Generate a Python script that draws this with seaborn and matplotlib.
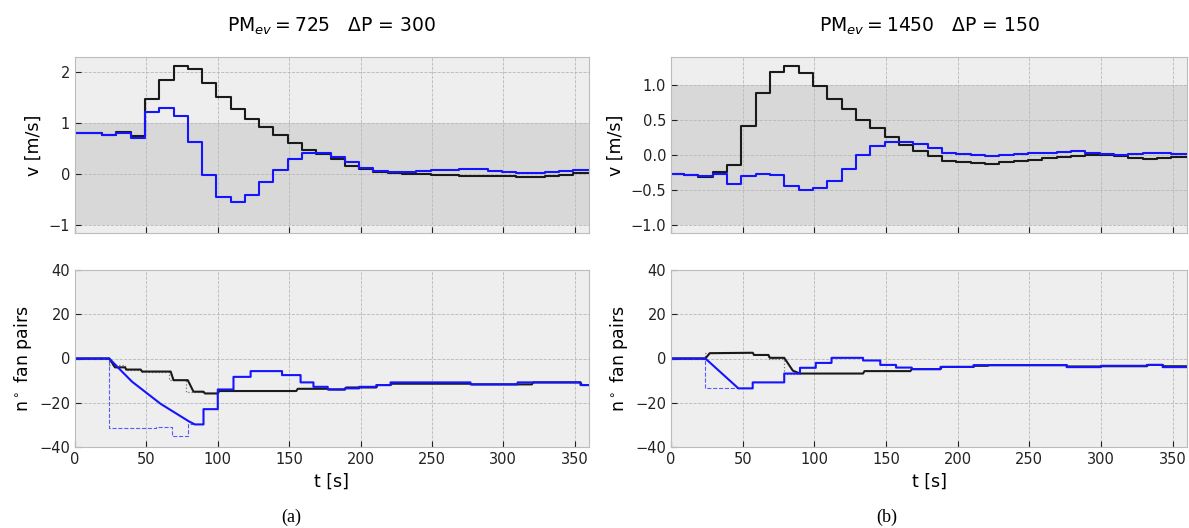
import numpy as np
import matplotlib
matplotlib.use("Agg")
import matplotlib.pyplot as plt
import seaborn as sns

# time grid of the velocity steps [s]
t_v = [0, 9, 19, 29, 39, 49, 59, 69, 79, 89, 99, 109, 119, 129, 139, 149, 159, 169,
       179, 189, 199, 209, 219, 229, 239, 249, 259, 269, 279, 289, 299, 309, 319, 329,
       339, 349, 360]

# (a) PM_ev = 725, dP = 300
v_black_a = [0.81, 0.81, 0.76, 0.82, 0.75, 1.47, 1.85, 2.11, 2.06, 1.79, 1.50, 1.27,
             1.08, 0.92, 0.76, 0.60, 0.48, 0.39, 0.29, 0.16, 0.10, 0.05, 0.02, 0.00,
             0.00, -0.02, -0.02, -0.03, -0.035, -0.04, -0.04, -0.05, -0.05, -0.045,
             -0.01, 0.02, 0.02]
v_blue_a = [0.81, 0.80, 0.76, 0.81, 0.71, 1.21, 1.29, 1.13, 0.63, -0.01, -0.44, -0.54,
            -0.41, -0.16, 0.08, 0.30, 0.42, 0.42, 0.34, 0.23, 0.13, 0.07, 0.04, 0.04,
            0.06, 0.08, 0.09, 0.10, 0.10, 0.07, 0.05, 0.03, 0.03, 0.05, 0.06, 0.08, 0.08]

# (b) PM_ev = 1450, dP = 150
v_black_b = [-0.27, -0.29, -0.32, -0.25, -0.14, 0.41, 0.89, 1.19, 1.27, 1.17, 0.98,
             0.80, 0.65, 0.50, 0.38, 0.25, 0.14, 0.05, -0.02, -0.085, -0.10, -0.12,
             -0.13, -0.11, -0.09, -0.07, -0.05, -0.03, -0.02, -0.01, 0.0, -0.02, -0.04,
             -0.06, -0.05, -0.03, -0.03]
v_blue_b = [-0.27, -0.29, -0.31, -0.28, -0.42, -0.30, -0.28, -0.29, -0.44, -0.50, -0.47,
            -0.37, -0.20, -0.01, 0.13, 0.19, 0.18, 0.16, 0.09, 0.03, 0.01, -0.01, -0.015,
            -0.005, 0.015, 0.02, 0.03, 0.04, 0.05, 0.02, 0.005, 0.0, 0.015, 0.02, 0.03,
            0.01, 0.01]

# fan pairs (a)
t_fb_a = [0, 24, 28, 35, 36, 46, 47, 67, 69, 79, 83, 90, 91, 100, 101, 155, 156, 177,
          178, 189, 190, 211, 212, 221, 222, 277, 278, 320, 321, 354, 355, 360]
n_fb_a = [0, 0, -4, -4, -5, -5, -5.9, -5.9, -9.8, -9.8, -15, -15, -15.8, -15.8, -14.7,
          -14.7, -13.7, -13.7, -14, -14, -13.1, -13.1, -12, -12, -11.4, -11.4, -11.7,
          -11.7, -10.8, -10.8, -12, -12]
t_fk_a = [0, 24, 24, 35, 35, 46, 46, 66, 66, 78, 78, 90, 90, 101]
n_fk_a = [0, 0, -3, -3, -5, -5, -5.9, -5.9, -9.8, -9.8, -15, -15, -15.8, -15.8]
t_fu_a = [0, 24, 30, 40, 50, 60, 70, 80, 84, 90, 90, 100, 100, 111, 111, 123, 123, 145,
          145, 158, 158, 167, 167, 177, 177, 189, 189, 199, 199, 211, 211, 221, 221, 277,
          277, 310, 310, 354, 354, 360]
n_fu_a = [0, 0, -4, -10.5, -15.5, -20.5, -24.5, -28.5, -29.8, -29.8, -22.9, -22.9, -14,
          -14, -8.3, -8.3, -5.7, -5.7, -7.5, -7.5, -10.8, -10.8, -12.8, -12.8, -14, -14,
          -13.5, -13.5, -12.8, -12.8, -12, -12, -10.8, -10.8, -11.7, -11.7, -10.8, -10.8,
          -12, -12]
t_fd_a = [0, 24, 24, 57, 57, 68, 68, 79, 79, 84]
n_fd_a = [0, 0, -31.6, -31.6, -30.8, -30.8, -35, -35, -29.8, -29.8]

# fan pairs (b)
t_fb_b = [0, 24, 27, 57, 58, 68, 69, 79, 85, 90, 134, 135, 167, 168, 188, 189, 211, 212,
          221, 222, 276, 277, 299, 300, 332, 333, 343, 344, 360]
n_fb_b = [0, 0, 2.4, 2.6, 1.6, 1.6, 0.3, 0.3, -5.5, -6.8, -6.8, -5.7, -5.7, -4.8, -4.8,
          -3.8, -3.8, -3.3, -3.3, -3.0, -3.0, -3.6, -3.6, -3.5, -3.5, -2.9, -2.9, -3.5,
          -3.5]
t_fk_b = [0, 24, 24, 57, 57, 68, 68, 79, 79, 90]
n_fk_b = [0, 0, 2.6, 2.6, 1.6, 1.6, 0, 0, -6.8, -6.8]
t_fu_b = [0, 24, 47, 57, 57, 79, 79, 90, 90, 101, 101, 112, 112, 134, 134, 146, 146, 157,
          157, 168, 168, 188, 188, 211, 211, 276, 276, 300, 300, 332, 332, 343, 343, 360]
n_fu_b = [0, 0, -13.5, -13.5, -10.8, -10.8, -6.8, -6.8, -4.2, -4.2, -2.0, -2.0, 0.3, 0.3,
          -0.9, -0.9, -2.9, -2.9, -4.1, -4.1, -4.8, -4.8, -3.8, -3.8, -3.0, -3.0, -3.9,
          -3.9, -3.3, -3.3, -2.9, -2.9, -3.9, -3.9]
t_fd_b = [0, 24, 24, 47]
n_fd_b = [0, 0, -13.5, -13.5]

titles = [r"PM$_{ev}=725$   $\Delta$P = 300", r"PM$_{ev}=1450$   $\Delta$P = 150"]
captions = ["(a)", "(b)"]

plt.style.use("bmh")
plt.rcParams["font.family"] = ["DejaVu Sans"]
plt.rcParams["mathtext.fontset"] = "dejavusans"
plt.rcParams["axes.axisbelow"] = "line"

BLACK = "#1a1a1a"
BLUE = "#1414ff"
LW = 1.5

fig = plt.figure(figsize=(11.89, 5.28), dpi=100)
W, H = 1189, 528
lefts = [75, 671]
rights = [589, 1187]
top_rows = (57, 233)
bot_rows = (270, 447)

panels = [
    (v_black_a, v_blue_a, (-1.15, 2.29), [-1, 0, 1, 2],
     t_fb_a, n_fb_a, t_fk_a, n_fk_a, t_fu_a, n_fu_a, t_fd_a, n_fd_a),
    (v_black_b, v_blue_b, (-1.12, 1.4), [-1.0, -0.5, 0.0, 0.5, 1.0],
     t_fb_b, n_fb_b, t_fk_b, n_fk_b, t_fu_b, n_fu_b, t_fd_b, n_fd_b),
]

for i, p in enumerate(panels):
    (vb, vu, ylim, yt, tfb, nfb, tfk, nfk, tfu, nfu, tfd, nfd) = p
    x0 = lefts[i] / W
    w = (rights[i] - lefts[i]) / W
    ax1 = fig.add_axes([x0, 1 - top_rows[1] / H, w, (top_rows[1] - top_rows[0]) / H])
    ax2 = fig.add_axes([x0, 1 - bot_rows[1] / H, w, (bot_rows[1] - bot_rows[0]) / H])

    ax1.axhspan(-1, 1, color="#d8d8d8", zorder=0.3, lw=0)
    sns.lineplot(x=t_v, y=vb, ax=ax1, color=BLACK, lw=LW, estimator=None, sort=False,
                 drawstyle="steps-post")
    sns.lineplot(x=t_v, y=vu, ax=ax1, color=BLUE, lw=LW, estimator=None, sort=False,
                 drawstyle="steps-post")
    ax1.set_xlim(0, 360)
    ax1.set_ylim(*ylim)
    ax1.set_yticks(yt)
    ax1.set_xticks(range(0, 351, 50))
    ax1.tick_params(labelbottom=False)
    ax1.set_ylabel("v [m/s]", fontsize=12.5)
    ax1.set_title(titles[i], fontsize=13.5, pad=18)

    sns.lineplot(x=tfk, y=nfk, ax=ax2, color="#777777", lw=0.9, ls=":", estimator=None,
                 sort=False)
    sns.lineplot(x=tfd, y=nfd, ax=ax2, color="#5a5aff", lw=0.8, ls="--", estimator=None,
                 sort=False, dashes=False)
    sns.lineplot(x=tfb, y=nfb, ax=ax2, color=BLACK, lw=LW, estimator=None, sort=False)
    sns.lineplot(x=tfu, y=nfu, ax=ax2, color=BLUE, lw=LW, estimator=None, sort=False)
    ax2.set_xlim(0, 360)
    ax2.set_ylim(-40, 40)
    ax2.set_yticks([-40, -20, 0, 20, 40])
    ax2.set_xticks(range(0, 351, 50))
    ax2.set_ylabel(r"n$^\circ$ fan pairs", fontsize=12.5)
    ax2.set_xlabel("t [s]", fontsize=12.5)

    for ax in (ax1, ax2):
        ax.tick_params(labelsize=10.5, length=4, colors="#222222")
        ax.grid(True, ls="--", lw=0.6, color="#b8b8b8")
        for s in ax.spines.values():
            s.set_color("#bcbcbc")

cap_x = [291, 887]
for i in range(2):
    fig.text(cap_x[i] / W, 1 - 517 / H, captions[i], ha="center", va="center",
             fontsize=13, family="Liberation Serif")

fig.savefig("out.png", dpi=100, facecolor="white")
